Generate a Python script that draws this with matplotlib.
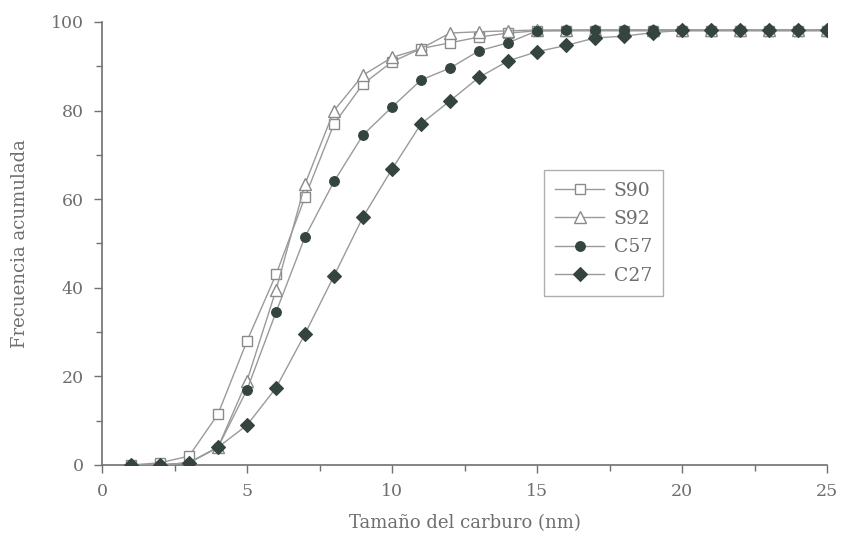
import matplotlib
matplotlib.use("Agg")
import matplotlib.pyplot as plt
from matplotlib.ticker import MultipleLocator

# Carbide size (nm) and cumulative frequency (%) per sample
size_nm = list(range(1, 26))

s90 = [0, 0.5, 2, 11.5, 28, 43, 60.5, 77, 86, 91, 94, 95.3, 96.6, 97.5, 98,
       98, 98, 98, 98, 98, 98, 98, 98, 98, 98]
s92 = [0, 0, 0.5, 4, 19, 39.5, 63.4, 80, 88, 92, 94, 97.5, 97.8, 98, 98.2,
       98.2, 98.2, 98.2, 98.2, 98.2, 98.2, 98.2, 98.2, 98.2, 98.2]
c57 = [0, 0, 0.5, 4, 17, 34.5, 51.5, 64, 74.5, 80.8, 86.9, 89.6, 93.5, 95.3,
       98, 98.1, 98.2, 98.2, 98.2, 98.2, 98.2, 98.2, 98.2, 98.2, 98.2]
c27 = [0, 0, 0.5, 4, 9, 17.4, 29.6, 42.7, 56, 66.8, 77, 82.2, 87.5, 91.2, 93.3,
       94.7, 96.4, 96.8, 97.6, 98.1, 98.1, 98.1, 98.1, 98.1, 98.1]

series_names = ["S90", "S92", "C57", "C27"]

xlabel = "Tamaño del carburo (nm)"
ylabel = "Frecuencia acumulada"

plt.rcParams["font.family"] = ["DejaVu Serif"]

text_col = "#6e6e6e"
line_col = "#9a9a9a"
mark_col = "#34443f"
axis_col = "#707070"

fig = plt.figure(figsize=(8.41, 5.40), dpi=100)
ax = fig.add_axes([0.1213, 0.1389, 0.8621, 0.8204])

styles = [
    dict(marker="s", ms=7, mfc="white", mec="#8a8a8a", mew=1.0),
    dict(marker="^", ms=8, mfc="white", mec="#8a8a8a", mew=1.0),
    dict(marker="o", ms=7, mfc=mark_col, mec=mark_col, mew=0.8),
    dict(marker="D", ms=7, mfc=mark_col, mec=mark_col, mew=0.8),
]

for data, name, st in zip([s90, s92, c57, c27], series_names, styles):
    ax.plot(size_nm, data, color=line_col, lw=1.0, label=name, zorder=3, **st)

ax.set_xlim(0, 25)
ax.set_ylim(0, 100)
ax.xaxis.set_major_locator(MultipleLocator(5))
ax.xaxis.set_minor_locator(MultipleLocator(2.5))
ax.yaxis.set_major_locator(MultipleLocator(20))
ax.yaxis.set_minor_locator(MultipleLocator(10))

for side in ("top", "right"):
    ax.spines[side].set_visible(False)
for side in ("left", "bottom"):
    ax.spines[side].set_color(axis_col)
    ax.spines[side].set_linewidth(1.2)

ax.tick_params(axis="both", which="major", direction="out", length=6,
               width=1.0, color=axis_col, labelcolor=text_col,
               labelsize=12.5, pad=7)
ax.tick_params(axis="both", which="minor", direction="out", length=4,
               width=1.0, color=axis_col)

ax.set_xlabel(xlabel, fontsize=13, color=text_col, labelpad=10)
ax.set_ylabel(ylabel, fontsize=13, color=text_col, labelpad=16)

leg = ax.legend(loc="upper left", bbox_to_anchor=(0.597, 0.686),
                fontsize=13.5, frameon=True, fancybox=False,
                edgecolor="#9a9a9a", handlelength=2.6, handletextpad=0.5,
                borderpad=0.6, labelspacing=0.55)
leg.get_frame().set_linewidth(1.0)
for t in leg.get_texts():
    t.set_color(text_col)

fig.savefig("out.png", dpi=100, facecolor="white")
